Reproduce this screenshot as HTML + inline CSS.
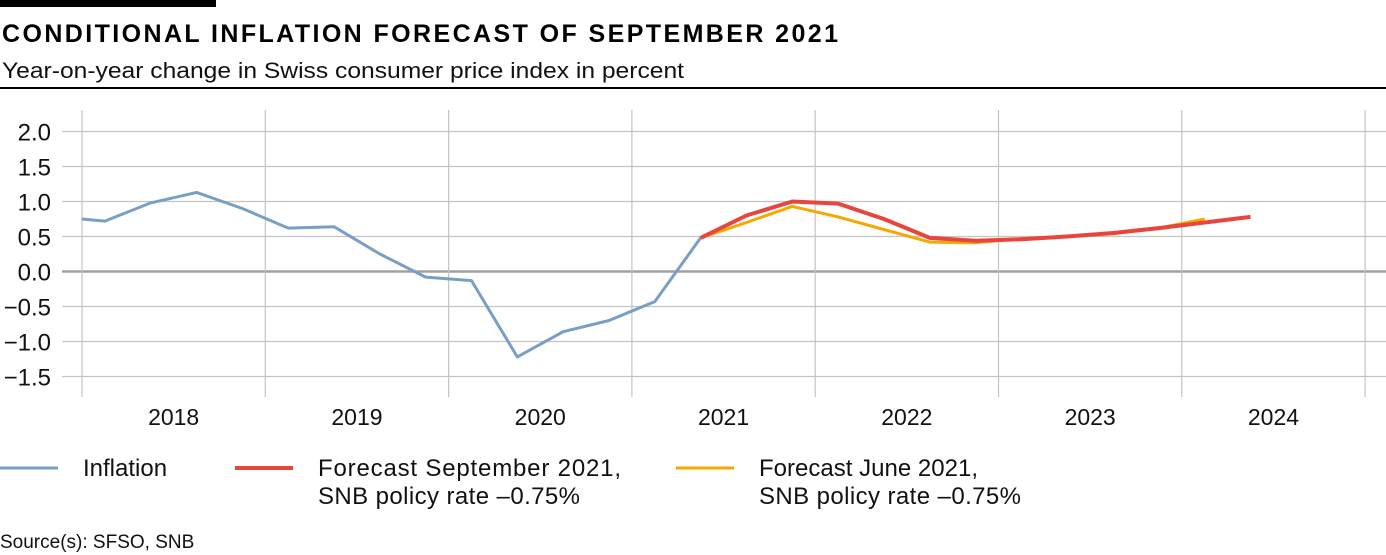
<!DOCTYPE html>
<html><head><meta charset="utf-8"><style>
body{margin:0;background:#fff;width:1386px;height:555px;overflow:hidden;font-family:"Liberation Sans",sans-serif;}
</style></head><body>
<svg width="1386" height="555" style="position:absolute;left:0;top:0">
<rect x="0" y="0" width="216" height="7" fill="#000"/>
<text x="2" y="42" font-size="25" font-weight="bold" fill="#000" textLength="836" lengthAdjust="spacing">CONDITIONAL INFLATION FORECAST OF SEPTEMBER 2021</text>
<text x="2" y="78" font-size="22" fill="#111" textLength="682" lengthAdjust="spacingAndGlyphs">Year-on-year change in Swiss consumer price index in percent</text>
<rect x="0" y="87" width="1386" height="2" fill="#000"/>
<g id="grid"></g>
<g id="series"></g>
<g font-size="24" fill="#111">
<line x1="0" y1="468" x2="58" y2="468" stroke="#7a9fc4" stroke-width="3"/>
<text x="83" y="476">Inflation</text>
<line x1="235" y1="468" x2="293" y2="468" stroke="#e8453c" stroke-width="4"/>
<text x="318" y="476" textLength="303" lengthAdjust="spacing">Forecast September 2021,</text>
<text x="318" y="504" textLength="262" lengthAdjust="spacing">SNB policy rate –0.75%</text>
<line x1="676" y1="468" x2="734" y2="468" stroke="#f5a800" stroke-width="3"/>
<text x="759" y="476" textLength="219" lengthAdjust="spacing">Forecast June 2021,</text>
<text x="759" y="504" textLength="262" lengthAdjust="spacing">SNB policy rate –0.75%</text>
</g>
<text x="0" y="548" font-size="19" fill="#111">Source(s): SFSO, SNB</text>
</svg>
<script>
const yTicks=[2.0,1.5,1.0,0.5,0.0,-0.5,-1.0,-1.5];
const years=["2018","2019","2020","2021","2022","2023","2024"];
// quarterly values, index 0 = 2017Q4
const inflation=[0.78,0.72,0.98,1.13,0.90,0.62,0.64,0.25,-0.08,-0.13,-1.22,-0.86,-0.70,-0.43,0.48];
const septStart=14;
const septForecast=[0.48,0.80,1.00,0.97,0.75,0.48,0.44,0.46,0.50,0.55,0.62,0.70,0.78];
const juneStart=14;
const juneForecast=[0.48,0.70,0.93,0.78,0.60,0.42,0.41,0.47,0.50,0.54,0.62,0.75];
const NS="http://www.w3.org/2000/svg";
const x0=82,yw=183.3,qw=yw/4;
const X=i=>x0-qw/2+i*qw;
const Y=v=>271.5-v*70;
const grid=document.getElementById('grid'),ser=document.getElementById('series');
function mk(tag,at,p){const e=document.createElementNS(NS,tag);for(const k in at)e.setAttribute(k,at[k]);p.appendChild(e);return e;}
yTicks.forEach(v=>{
 const l=mk('line',{x1:62,x2:1386,y1:Y(v),y2:Y(v),stroke:v===0?'#a0a0a0':'#c4c4c4','stroke-width':v===0?2.5:1.2},grid);
 
 
 const t=mk('text',{x:51,y:Y(v)+9,'text-anchor':'end','font-size':24,fill:'#111'},grid);
 t.textContent=(v<0?'−':'')+Math.abs(v).toFixed(1);
 
 
});
for(let k=0;k<=years.length;k++){
 const l=mk('line',{x1:x0+k*yw,x2:x0+k*yw,y1:110,y2:397,stroke:'#c4c4c4','stroke-width':1.2},grid);
 
 
}
years.forEach((y,k)=>{
 const t=mk('text',{x:x0+(k+0.5)*yw,y:425,'text-anchor':'middle','font-size':23,fill:'#111'},grid);
 t.textContent=y;
 
 
});
function line(vals,start,color,w,name){
 const p=vals.map((v,i)=>{let x=X(start+i),y=Y(v);
  if(x<x0&&i+1<vals.length){const x2=X(start+i+1),y2=Y(vals[i+1]);y=y+(y2-y)*(x0-x)/(x2-x);x=x0;}
  return x.toFixed(1)+','+y.toFixed(1);}).join(' ');
 const e=mk('polyline',{points:p,fill:'none',stroke:color,'stroke-width':w,'stroke-linejoin':'round'},ser);
 
 
}
line(juneForecast,juneStart,'#f5a800',3,'june-forecast-line');
line(septForecast,septStart,'#e8453c',4,'september-forecast-line');
line(inflation,0,'#7a9fc4',3,'inflation-line');
</script>
</body></html>
